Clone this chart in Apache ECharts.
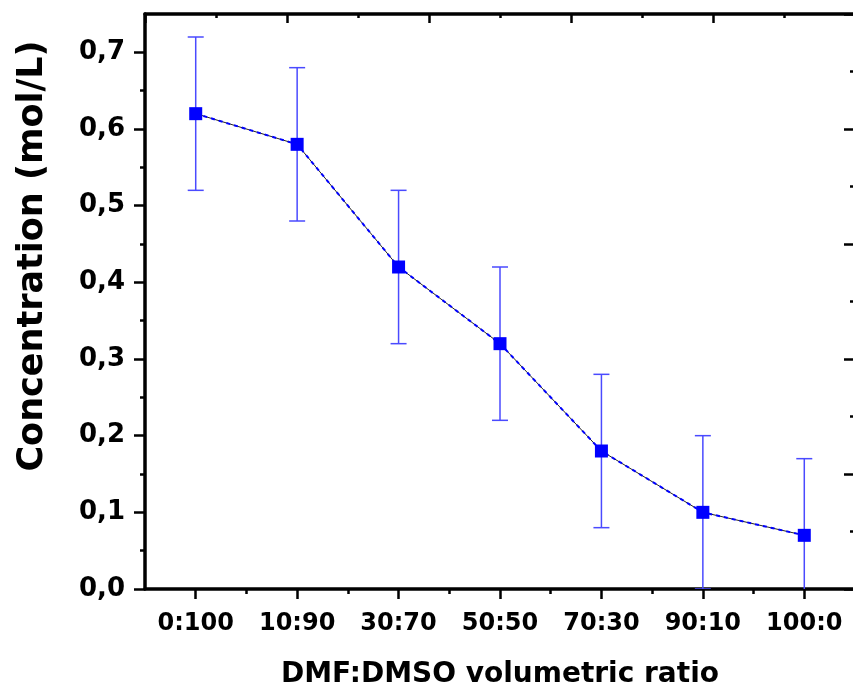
<!DOCTYPE html>
<html>
<head>
<meta charset="utf-8">
<script src="https://cdn.jsdelivr.net/npm/echarts@6/dist/echarts.min.js"></script>
<style>
  html, body { margin: 0; padding: 0; background: #fff; }
  #chart { width: 853px; height: 693px; }
</style>
</head>
<body>
<div id="chart"></div>
<script>
// DMF:DMSO ratio vs. concentration
const categories = ["0:100", "10:90", "30:70", "50:50", "70:30", "90:10", "100:0"];
const concentration = [0.62, 0.58, 0.42, 0.32, 0.18, 0.10, 0.07];
const errors = [0.10, 0.10, 0.10, 0.10, 0.10, 0.10, 0.10];

// tick positions (x uses category index 1..7)
const xMajor = [1, 2, 3, 4, 5, 6, 7];
const xMinor = [1.5, 2.5, 3.5, 4.5, 5.5, 6.5];
const yMajor = [0, 0.1, 0.2, 0.3, 0.4, 0.5, 0.6, 0.7];
const yMinor = [0.05, 0.15, 0.25, 0.35, 0.45, 0.55, 0.65];

const FONT = "DejaVu Sans";
const AXIS = { onZero: false, lineStyle: { color: "#000", width: 3.5 } };
const TICK = { width: 2.5, color: "#000" };

const points = concentration.map((v, i) => [i + 1, v]);
const bars = concentration.map((v, i) => [i + 1, v - errors[i], v + errors[i]]);

// same rect for both grids; the plot runs a little past the right edge
const rect = { left: 145, top: 14, right: -2, bottom: 104, containLabel: false, outerBoundsMode: "none" };

const chart = echarts.init(document.getElementById("chart"), null, { renderer: "canvas" });

chart.setOption({
  animation: false,
  backgroundColor: "#fff",
  grid: [Object.assign({}, rect), Object.assign({}, rect)],
  xAxis: [
    {
      type: "value", gridIndex: 0, position: "bottom", min: 0.5, max: 7.5,
      axisLine: AXIS,
      splitLine: { show: false },
      axisTick: { customValues: xMajor, length: 10, inside: false, lineStyle: TICK },
      axisLabel: {
        customValues: xMajor, margin: 23,
        formatter: (v) => categories[Math.round(v) - 1] || "",
        fontFamily: FONT, fontWeight: "bold", fontSize: 24, color: "#000",
      },
      name: "DMF:DMSO volumetric ratio", nameLocation: "middle", nameGap: 72,
      nameTextStyle: { fontFamily: FONT, fontWeight: "bold", fontSize: 28, color: "#000" },
    },
    {
      // top frame: its own finer scale, ticks pointing in
      type: "value", gridIndex: 0, position: "top", min: 0, max: 10, interval: 2,
      axisLine: AXIS,
      splitLine: { show: false },
      axisTick: { inside: true, length: 9, lineStyle: TICK },
      minorTick: { show: true, splitNumber: 2, length: 4, lineStyle: TICK },
      axisLabel: { show: false },
    },
    {
      // bottom minor ticks
      type: "value", gridIndex: 1, position: "bottom", min: 0.5, max: 7.5,
      axisLine: { show: false, onZero: false },
      splitLine: { show: false },
      axisTick: { customValues: xMinor, length: 5, lineStyle: TICK },
      axisLabel: { show: false },
    },
  ],
  yAxis: [
    {
      type: "value", gridIndex: 0, position: "left", min: 0, max: 0.75,
      axisLine: AXIS,
      splitLine: { show: false },
      axisTick: { customValues: yMajor, length: 11, lineStyle: TICK },
      axisLabel: {
        customValues: yMajor, margin: 20,
        formatter: (v) => v.toFixed(1).replace(".", ","),
        fontFamily: FONT, fontWeight: "bold", fontSize: 26, color: "#000",
      },
    },
    {
      // right frame, ticks pointing in
      type: "value", gridIndex: 0, position: "right", min: 0, max: 10, interval: 2,
      axisLine: AXIS,
      splitLine: { show: false },
      axisTick: { inside: true, length: 11, lineStyle: TICK },
      minorTick: { show: true, splitNumber: 2, length: 5, lineStyle: TICK },
      axisLabel: { show: false },
    },
    {
      // left minor ticks
      type: "value", gridIndex: 1, position: "left", min: 0, max: 0.75,
      axisLine: { show: false, onZero: false },
      splitLine: { show: false },
      axisTick: { customValues: yMinor, length: 5, lineStyle: TICK },
      axisLabel: { show: false },
    },
  ],
  graphic: [
    {
      type: "text", x: 33, y: 256, rotation: Math.PI / 2,
      style: {
        text: "Concentration (mol/L)", fill: "#000",
        font: `bold 35px "${FONT}"`, textAlign: "center", textVerticalAlign: "middle",
      },
    },
  ],
  series: [
    {
      type: "custom", xAxisIndex: 0, yAxisIndex: 0, clip: true, z: 2,
      data: bars,
      renderItem: (params, api) => {
        const lo = api.coord([api.value(0), api.value(1)]);
        const hi = api.coord([api.value(0), api.value(2)]);
        const cap = 8;
        const style = { stroke: "#4a4aff", lineWidth: 1.5 };
        return {
          type: "group",
          children: [
            { type: "line", shape: { x1: lo[0], y1: lo[1], x2: hi[0], y2: hi[1] }, style },
            { type: "line", shape: { x1: lo[0] - cap, y1: lo[1], x2: lo[0] + cap, y2: lo[1] }, style },
            { type: "line", shape: { x1: hi[0] - cap, y1: hi[1], x2: hi[0] + cap, y2: hi[1] }, style },
          ],
        };
      },
    },
    {
      type: "line", xAxisIndex: 0, yAxisIndex: 0, z: 3,
      data: points, symbol: "none",
      lineStyle: { color: "#222", width: 1 },
    },
    {
      type: "line", xAxisIndex: 0, yAxisIndex: 0, z: 4,
      data: points, symbol: "rect", symbolSize: 13,
      itemStyle: { color: "#0000ff" },
      lineStyle: { color: "#0000ff", width: 2, type: [4, 4] },
    },
  ],
});
</script>
</body>
</html>
